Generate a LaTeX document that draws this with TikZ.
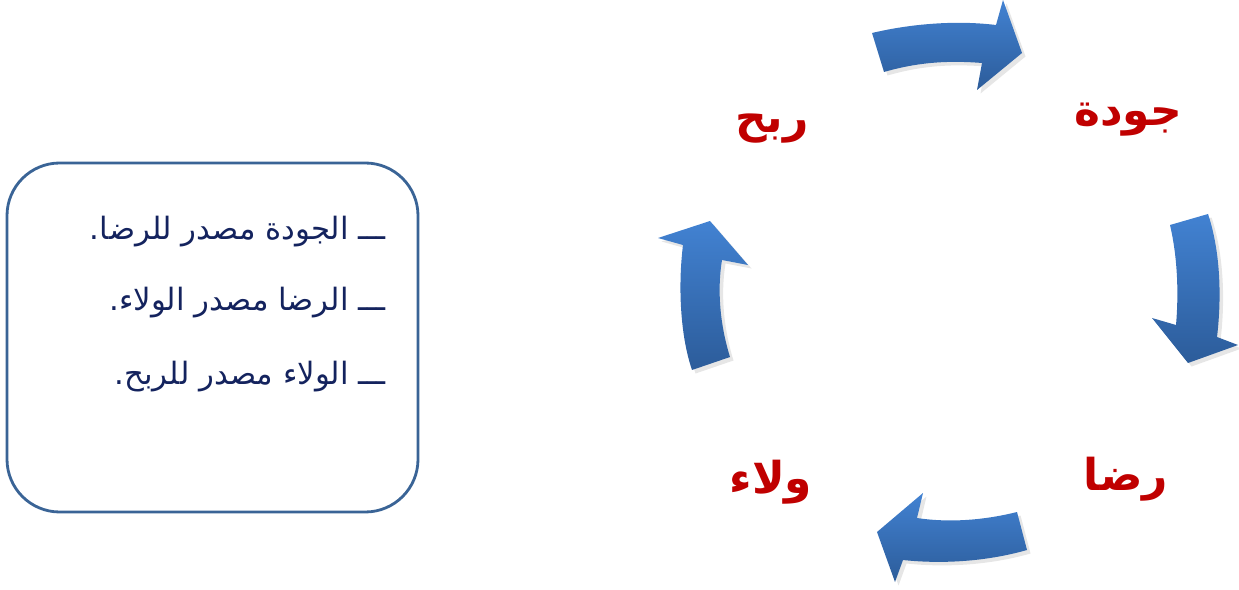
\documentclass[tikz,border=0pt]{standalone}
\usepackage{fontspec}
\newfontfamily\arabicfont[Script=Arabic]{DejaVu Sans}
\TeXXeTstate=1
\usetikzlibrary{shadows}
\definecolor{frameblue}{HTML}{3A6496}
\definecolor{navytext}{HTML}{14235E}
\definecolor{labelred}{HTML}{C00000}
\definecolor{arrtop}{HTML}{4282D2}
\definecolor{arrbot}{HTML}{2C5C9A}
\tikzset{
  blockarrow/.style={top color=arrtop, bottom color=arrbot, draw=none,
    drop shadow={opacity=0.2, shadow xshift=2pt, shadow yshift=-2pt}},
  cyclelabel/.style={text=labelred, font=\arabicfont\bfseries\fontsize{25}{28}\selectfont, inner sep=0pt},
  boxtext/.style={text=navytext, font=\arabicfont\fontsize{17.5}{21}\selectfont, anchor=east, inner sep=0pt},
  infobox/.style={draw=frameblue, line width=1.6pt, rounded corners=30pt},
}
\begin{document}
\begin{tikzpicture}[x=0.02cm,y=-0.02cm]
\useasboundingbox (0,0) rectangle (1239,590);
% info box
\draw[infobox] (7,163) rectangle (418,512);
\node[boxtext] (l1) at (386,232) {\beginR ـــ الجودة مصدر للرضا.\endR};
\node[boxtext] (l2) at (386,303) {\beginR ـــ الرضا مصدر الولاء.\endR};
\node[boxtext] (l3) at (386,377) {\beginR ـــ الولاء مصدر للربح.\endR};
% labels
\node[cyclelabel] (q) at (1128,120) {\beginR جودة\endR};
\node[cyclelabel] (p) at (772,129) {\beginR ربح\endR};
\node[cyclelabel] (s) at (1126,479) {\beginR رضا\endR};
\node[cyclelabel] (w) at (771,482) {\beginR ولاء\endR};
% top arrow (rightward)
\path[blockarrow] (872,33) .. controls (910,24) and (955,20) .. (996,25)
  -- (1003,0) -- (1022,53) -- (977,90) -- (982,63)
  .. controls (945,60) and (915,63) .. (884,72) -- cycle;
% right arrow (downward)
\path[blockarrow] (1208,214) .. controls (1220,250) and (1222,295) .. (1217,337)
  -- (1238,345) -- (1188,363) -- (1152,318) -- (1176,325)
  .. controls (1179,290) and (1177,255) .. (1170,225) -- cycle;
% bottom arrow (leftward)
\path[blockarrow] (1027,550) .. controls (985,562) and (940,564) .. (903,560)
  -- (895,582) -- (877,532) -- (923,493) -- (917,518)
  .. controls (950,523) and (985,520) .. (1017,512) -- cycle;
% left arrow (upward)
\path[blockarrow] (692,370) .. controls (680,335) and (678,285) .. (683,245)
  -- (658,238) -- (710,221) -- (748,265) -- (722,260)
  .. controls (717,290) and (720,325) .. (730,357) -- cycle;
\end{tikzpicture}
\end{document}
